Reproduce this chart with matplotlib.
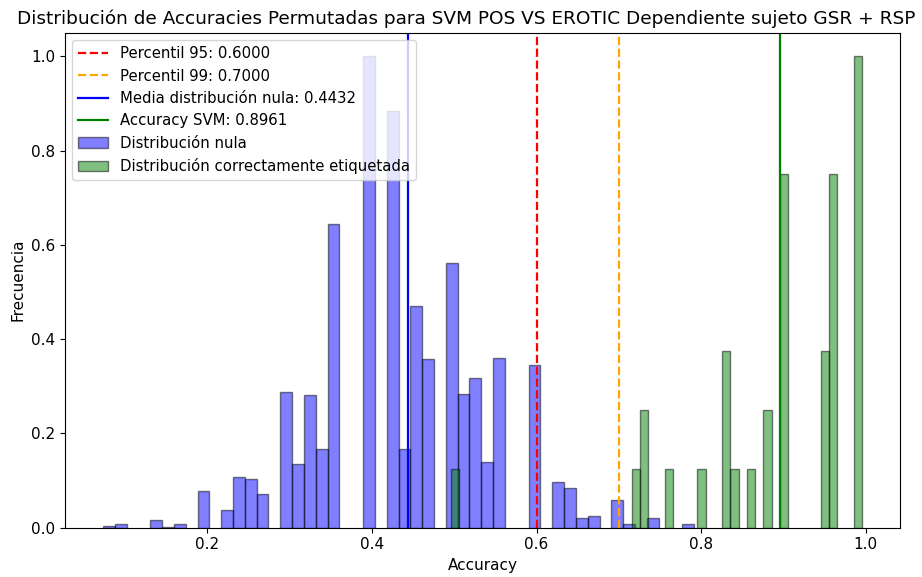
# encoding: utf-8

import matplotlib.pyplot as plt

plt.rcParams['font.size'] = 11
plt.rcParams['lines.linewidth'] = 1.6

# null distribution (permuted labels): bin left edge, normalised frequency
null_left = [0.0730, 0.0874, 0.1305, 0.1449, 0.1592, 0.1880, 0.2167, 0.2311,
             0.2454, 0.2598, 0.2886, 0.3029, 0.3173, 0.3317, 0.3460, 0.3891,
             0.4179, 0.4323, 0.4466, 0.4610, 0.4897, 0.5041, 0.5185, 0.5328,
             0.5472, 0.5903, 0.6191, 0.6334, 0.6478, 0.6622, 0.6909, 0.7053,
             0.7340, 0.7771]
null_freq = [0.003, 0.007, 0.016, 0.002, 0.007, 0.077, 0.037, 0.108,
             0.103, 0.071, 0.287, 0.135, 0.281, 0.167, 0.644, 1.000,
             0.885, 0.168, 0.470, 0.357, 0.561, 0.284, 0.318, 0.139,
             0.360, 0.345, 0.097, 0.084, 0.020, 0.025, 0.059, 0.007,
             0.020, 0.007]
null_width = 0.01437

# correctly labelled distribution
real_left = [0.4956, 0.7156, 0.7256, 0.7556, 0.7956, 0.8256, 0.8356,
             0.8556, 0.8756, 0.8956, 0.9456, 0.9556, 0.9856]
real_freq = [0.125, 0.125, 0.25, 0.125, 0.125, 0.375, 0.125,
             0.125, 0.25, 0.75, 0.375, 0.75, 1.0]
real_width = 0.01

p95 = 0.6000
p99 = 0.7000
null_mean = 0.4432
acc_svm = 0.8961

fig = plt.figure(figsize=(9.22, 5.77), dpi=100)
ax = fig.add_axes([0.0705, 0.0854, 0.9056, 0.8579])

ax.bar(null_left, null_freq, width=null_width, align='edge', color='blue',
       alpha=0.5, edgecolor='black', label='Distribución nula')
ax.bar(real_left, real_freq, width=real_width, align='edge', color='green',
       alpha=0.5, edgecolor='black', label='Distribución correctamente etiquetada')

ax.axvline(p95, color='red', linestyle='--', label='Percentil 95: %.4f' % p95)
ax.axvline(p99, color='orange', linestyle='--', label='Percentil 99: %.4f' % p99)
ax.axvline(null_mean, color='blue', linestyle='-',
           label='Media distribución nula: %.4f' % null_mean)
ax.axvline(acc_svm, color='green', linestyle='-',
           label='Accuracy SVM: %.4f' % acc_svm)

ax.set_title('Distribución de Accuracies Permutadas para SVM POS VS EROTIC '
             'Dependiente sujeto GSR + RSP', fontsize=13.3, x=0.481)
ax.set_xlabel('Accuracy')
ax.set_ylabel('Frecuencia')
ax.legend(loc='upper left', fontsize=10.7)

fig.savefig('out.png', dpi=100)
